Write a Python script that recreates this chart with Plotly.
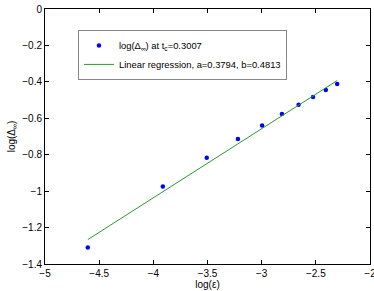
import plotly.graph_objects as go

# data
log_eps = [-4.605, -3.912, -3.507, -3.219, -2.996, -2.813, -2.659, -2.526, -2.408, -2.303]
log_delta = [-1.309, -0.974, -0.817, -0.714, -0.639, -0.577, -0.526, -0.483, -0.445, -0.412]
fit_x = [-4.605, -2.303]
fit_y = [-1.266, -0.393]
x_ticks = [-5, -4.5, -4, -3.5, -3, -2.5, -2]
y_ticks = [0, -0.2, -0.4, -0.6, -0.8, -1, -1.2, -1.4]

def lab(v):
    s = ("%g" % v)
    return s.replace("-", "\u2212")

fig = go.Figure()
fig.add_trace(go.Scatter(x=log_eps, y=log_delta, mode="markers",
                         marker=dict(color="#0000ff", size=4.5),
                         name="log(Δ<sub>∞</sub>) at t<sub>c</sub>=0.3007"))
fig.add_trace(go.Scatter(x=fit_x, y=fit_y, mode="lines",
                         line=dict(color="#2a9a2a", width=1),
                         name="Linear regression, a=0.3794, b=0.4813"))

axis_common = dict(showgrid=False, zeroline=False, showline=True, linecolor="black",
                   linewidth=1, mirror="ticks", ticks="inside", ticklen=4,
                   tickcolor="black", tickfont=dict(size=10, color="black"),
                   ticklabeloverflow="allow")
fig.update_layout(
    width=374, height=291,
    margin=dict(l=45, r=4, t=9, b=27, autoexpand=False),
    paper_bgcolor="white", plot_bgcolor="white",
    font=dict(family="Liberation Sans, Arial, sans-serif", size=10, color="black"),
    xaxis=dict(range=[-5, -2], tickvals=x_ticks, ticktext=[lab(v) for v in x_ticks],
               title=dict(text="log(ε)", standoff=0, font=dict(size=10)), **axis_common),
    yaxis=dict(range=[-1.4, 0], tickvals=y_ticks, ticktext=[lab(v) for v in y_ticks],
               title=dict(text="log(Δ<sub>∞</sub>)", standoff=4, font=dict(size=10)), **axis_common),
    legend=dict(x=0.1015, y=0.918, xanchor="left", yanchor="top",
                bgcolor="white", bordercolor="#888888", borderwidth=1,
                font=dict(size=9.4), itemwidth=30, tracegroupgap=0),
    showlegend=True,
)
fig.write_html("out.html", config={"displayModeBar": False},
               post_script="document.body.style.margin='0';document.body.style.overflow='hidden';")
